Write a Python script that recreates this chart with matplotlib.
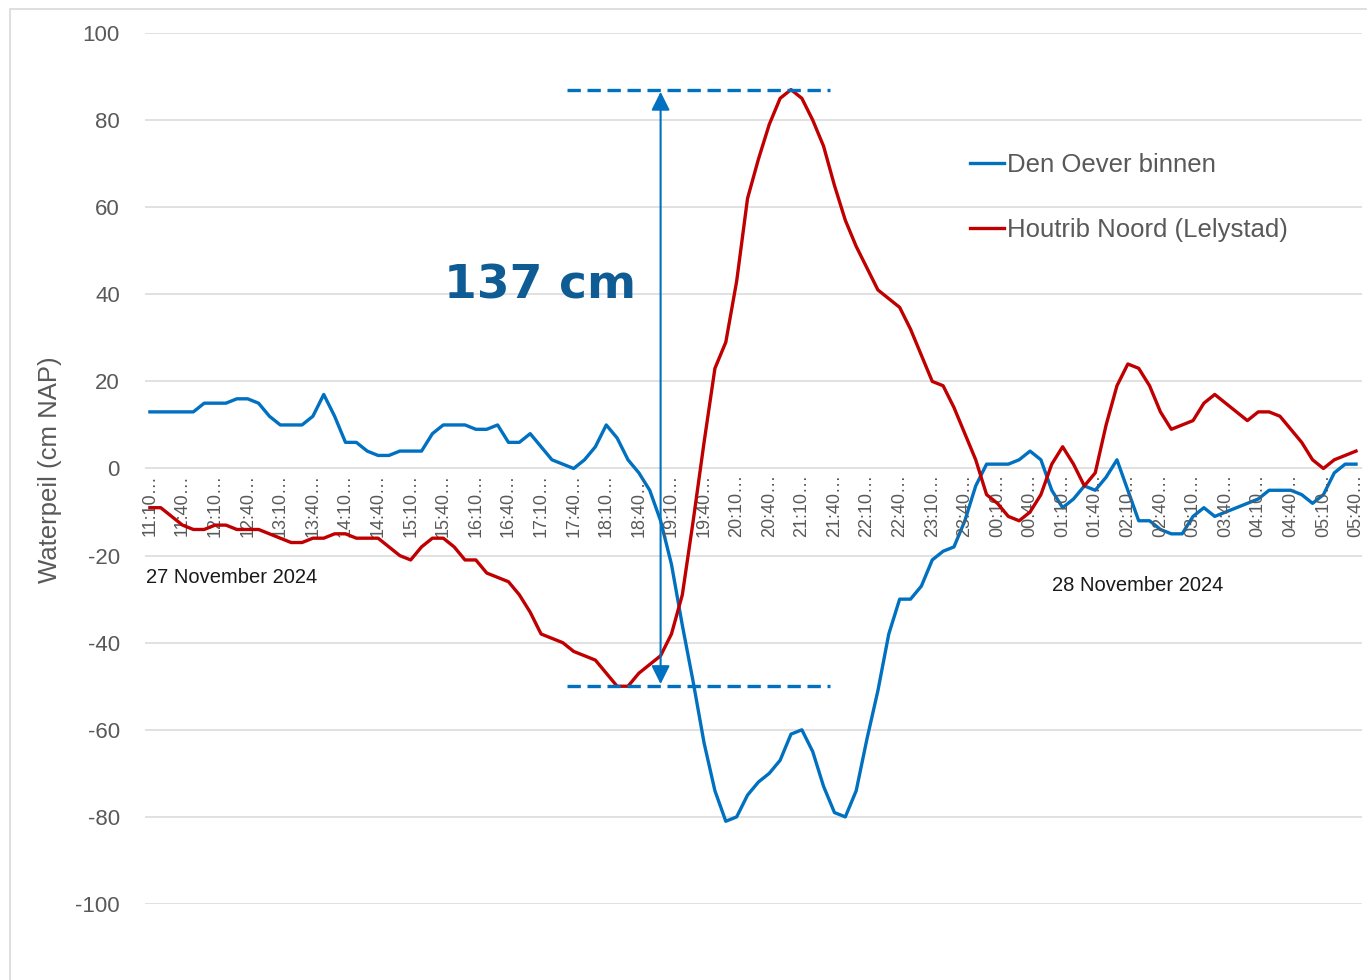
import matplotlib.pyplot as plt
from matplotlib.patches import Rectangle

# Waterpeil (cm NAP), every 10 minutes from 27-11 11:10 to 28-11 05:40
den_oever = [13, 13, 13, 13, 13, 15, 15, 15, 16, 16, 15, 12, 10, 10, 10, 12, 17, 12,
             6, 6, 4, 3, 3, 4, 4, 4, 8, 10, 10, 10, 9, 9, 10, 6, 6, 8,
             5, 2, 1, 0, 2, 5, 10, 7, 2, -1, -5, -12,
             -22, -36, -49, -63, -74, -81, -80, -75, -72, -70, -67, -61, -60, -65, -73, -79,
             -80, -74, -62, -51, -38, -30, -30, -27, -21, -19, -18, -12, -4, 1,
             1, 1, 2, 4, 2, -5, -9, -7, -4, -5, -2, 2, -5, -12, -12, -14, -15, -15,
             -11, -9, -11, -10, -9, -8, -7, -5, -5, -5, -6, -8, -6, -1, 1, 1]
houtrib = [-9, -9, -11, -13, -14, -14, -13, -13, -14, -14, -14, -15, -16, -17, -17, -16,
           -16, -15, -15, -16, -16, -16, -18,
           -20, -21, -18, -16, -16, -18, -21, -21, -24, -25, -26, -29, -33, -38, -39, -40,
           -42, -43, -44, -47, -50, -50, -47, -45, -43, -38,
           -29, -12, 6, 23, 29, 43, 62, 71, 79, 85, 87, 85, 80, 74, 65, 57, 51, 46, 41, 39,
           37, 32, 26, 20, 19, 14, 8, 2, -6, -8, -11, -12, -10, -6, 1, 5, 1, -4, -1, 10,
           19, 24, 23, 19, 13, 9, 10, 11, 15, 17, 15, 13, 11, 13, 13, 12, 9, 6, 2, 0,
           2, 3, 4]
tick_labels = ["11:10", "11:40", "12:10", "12:40", "13:10", "13:40", "14:10", "14:40",
               "15:10", "15:40", "16:10", "16:40", "17:10", "17:40", "18:10", "18:40",
               "19:10", "19:40", "20:10", "20:40", "21:10", "21:40", "22:10", "22:40",
               "23:10", "23:40", "00:10", "00:40", "01:10", "01:40", "02:10", "02:40",
               "03:10", "03:40", "04:10", "04:40", "05:10", "05:40"]
series_names = ["Den Oever binnen", "Houtrib Noord (Lelystad)"]
rise_low, rise_high = -50, 87

plt.rcParams["font.family"] = ["Liberation Sans", "DejaVu Sans"]
plt.rcParams["axes.unicode_minus"] = False
grey = "#595959"

fig = plt.figure(figsize=(13.67, 9.8), dpi=100)
ax = fig.add_axes([145 / 1367, 1 - 904 / 980, 1217 / 1367, 871 / 980])

# chart area border
fig.patches.append(Rectangle((10 / 1367, -0.05), 1.1, 1 - 9 / 980 + 0.05, transform=fig.transFigure,
                             fill=False, edgecolor="#D9D9D9", linewidth=1.2))

x = list(range(len(den_oever)))
ax.plot(x, den_oever, color="#0070C0", linewidth=2.4, label=series_names[0], zorder=3)
ax.plot(x, houtrib, color="#C00000", linewidth=2.4, label=series_names[1], zorder=4)

ax.set_ylim(-100, 100)
ax.set_xlim(-0.45, 111.55)
ax.set_yticks(range(-100, 101, 20))
ax.grid(axis="y", color="#D9D9D9", linewidth=1.1)
ax.set_axisbelow(True)
ax.set_xticks([])
for s in ax.spines.values():
    s.set_visible(False)
ax.tick_params(axis="y", length=0, pad=18, labelsize=16, labelcolor=grey)
fig.text(50 / 1367, 1 - 470 / 980, "Waterpeil (cm NAP)", rotation=90, ha="center",
         va="center", fontsize=18.5, color=grey)

# time labels along the zero line
for k, lab in enumerate(tick_labels):
    ax.annotate(lab + "…", (3 * k, 0), xytext=(0, -4), textcoords="offset points",
                rotation=90, ha="center", va="top", fontsize=13, color=grey)

ax.text(-0.4, -25.1, "27 November 2024", fontsize=14.5, color="#1A1A1A", va="center")
ax.text(83.0, -26.8, "28 November 2024", fontsize=14.5, color="#1A1A1A", va="center")

# range between lowest and highest level
ax.plot([38.4, 62.6], [rise_high, rise_high], color="#0070C0", linewidth=2.4,
        linestyle=(0, (4, 2)), zorder=5)
ax.plot([38.4, 62.6], [rise_low, rise_low], color="#0070C0", linewidth=2.4,
        linestyle=(0, (4, 2)), zorder=5)
ax.annotate("", xy=(47, rise_high - 0.5), xytext=(47, rise_low + 0.5),
            arrowprops=dict(arrowstyle="<|-|>", color="#5B9BD5", lw=1.5,
                            mutation_scale=28, shrinkA=0, shrinkB=0,
                            fc="#0070C0", ec="#0070C0"), zorder=6)
ax.text(27.1, 41.8, f"{rise_high - rise_low} cm", fontsize=34, fontweight="bold",
        family="DejaVu Sans", color="#0F5B94", va="center")

ax.legend(loc="upper left", bbox_to_anchor=(0.678, 0.862), frameon=False,
          fontsize=18.5, labelcolor=grey, handlelength=1.3, handletextpad=0.15,
          labelspacing=1.6, borderpad=0, borderaxespad=0)

fig.savefig("out.png", dpi=100)
